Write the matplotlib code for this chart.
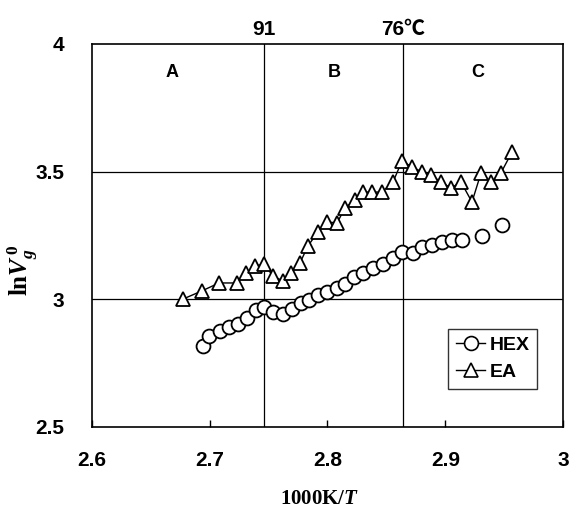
import matplotlib
matplotlib.use("Agg")
import matplotlib.pyplot as plt
from matplotlib.lines import Line2D

plt.rcParams['mathtext.fontset'] = 'custom'
plt.rcParams['mathtext.rm'] = 'Liberation Serif:bold'
plt.rcParams['mathtext.it'] = 'Liberation Serif:italic:bold'
plt.rcParams['mathtext.bf'] = 'Liberation Serif:bold'

hex_x = [2.6943, 2.6994, 2.7087, 2.7163, 2.7240, 2.7316, 2.7393, 2.7461, 2.7537, 2.7622,
         2.7698, 2.7775, 2.7843, 2.7919, 2.7996, 2.8081, 2.8149, 2.8225, 2.8301, 2.8386,
         2.8471, 2.8556, 2.8633, 2.8726, 2.8803, 2.8887, 2.8972, 2.9057, 2.9142, 2.9312, 2.9482]
hex_y = [2.817, 2.856, 2.876, 2.891, 2.903, 2.927, 2.958, 2.970, 2.950, 2.942,
         2.962, 2.986, 2.997, 3.017, 3.029, 3.044, 3.060, 3.087, 3.103, 3.123,
         3.138, 3.162, 3.185, 3.181, 3.205, 3.213, 3.224, 3.232, 3.232, 3.248, 3.291]

ea_x = [2.6773, 2.6934, 2.7079, 2.7231, 2.7308, 2.7384, 2.7461, 2.7537, 2.7622, 2.7690,
        2.7766, 2.7834, 2.7919, 2.7996, 2.8081, 2.8149, 2.8234, 2.8301, 2.8378, 2.8463,
        2.8556, 2.8633, 2.8718, 2.8803, 2.8879, 2.8964, 2.9049, 2.9134, 2.9227, 2.9304,
        2.9389, 2.9473, 2.9567]
ea_y = [3.001, 3.033, 3.064, 3.064, 3.103, 3.130, 3.138, 3.091, 3.072, 3.103,
        3.142, 3.209, 3.264, 3.303, 3.299, 3.358, 3.389, 3.420, 3.420, 3.420,
        3.459, 3.542, 3.518, 3.499, 3.487, 3.459, 3.436, 3.459, 3.381, 3.495,
        3.459, 3.495, 3.577]

x_ticks = [2.6, 2.7, 2.8, 2.9, 3.0]
x_ticklabels = ["2.6", "2.7", "2.8", "2.9", "3"]
y_ticks = [2.5, 3.0, 3.5, 4.0]
y_ticklabels = ["2.5", "3", "3.5", "4"]
region_bounds = [2.746, 2.864]
region_top_labels = ["91", "76\u2103"]
region_names = ["A", "B", "C"]
region_name_x = [2.668, 2.806, 2.928]

SANS = ['Liberation Sans', 'Noto Sans CJK SC', 'DejaVu Sans']

fig = plt.figure(figsize=(5.71, 5.19), dpi=100)
ax = fig.add_axes([0.1611, 0.1773, 0.8249, 0.7380])

ax.plot(hex_x, hex_y, linestyle='none', marker='o', markersize=10,
        markerfacecolor='white', markeredgecolor='black', markeredgewidth=1.3, color='black')
ax.plot(ea_x, ea_y, linestyle='-', linewidth=1.0, marker='^', markersize=10,
        markerfacecolor='white', markeredgecolor='black', markeredgewidth=1.3, color='black')

ax.set_xlim(2.6, 3.0)
ax.set_ylim(2.5, 4.0)

for yv in [3.0, 3.5]:
    ax.axhline(yv, color='black', linewidth=0.9, zorder=0)
for xv in region_bounds:
    ax.axvline(xv, color='black', linewidth=0.9, zorder=0)

tickfont = dict(family=SANS, weight='bold', size=15)
ax.set_xticks(x_ticks)
ax.set_xticklabels(x_ticklabels, **tickfont)
ax.set_yticks(y_ticks)
ax.set_yticklabels(y_ticklabels, **tickfont)
ax.tick_params(axis='x', direction='in', length=5, width=1.0, pad=17)
ax.tick_params(axis='y', length=0, pad=20)

for sp in ax.spines.values():
    sp.set_linewidth(1.2)

for xv, lab in zip(region_bounds, region_top_labels):
    ax.text(xv, 4.0 + 0.02, lab, ha='center', va='bottom', **tickfont)
for xv, lab in zip(region_name_x, region_names):
    ax.text(xv, 3.89, lab, ha='center', va='center', family=SANS,
            weight='bold', size=13)

ax.set_xlabel(r'$\mathrm{1000K/}T$', fontsize=15)
ax.xaxis.set_label_coords(0.484, -0.16)
ax.set_ylabel(r'$\mathrm{ln}V_g^{\,0}$', fontsize=18)
ax.yaxis.set_label_coords(-0.11, 0.41)

handles = [
    Line2D([], [], color='black', linewidth=1.0, marker='o', markersize=10,
           markerfacecolor='white', markeredgecolor='black', markeredgewidth=1.2),
    Line2D([], [], color='black', linewidth=1.0, marker='^', markersize=10,
           markerfacecolor='white', markeredgecolor='black', markeredgewidth=1.2),
]
leg = ax.legend(handles, ['HEX', 'EA'], loc='lower right', bbox_to_anchor=(0.945, 0.099),
                borderaxespad=0.0,
                frameon=True, fancybox=False, edgecolor='black', handlelength=1.5,
                handletextpad=0.2, borderpad=0.4, labelspacing=0.5,
                prop=dict(family=SANS, weight='bold', size=14))
leg.get_frame().set_linewidth(1.0)

fig.savefig('out.png', dpi=100)
